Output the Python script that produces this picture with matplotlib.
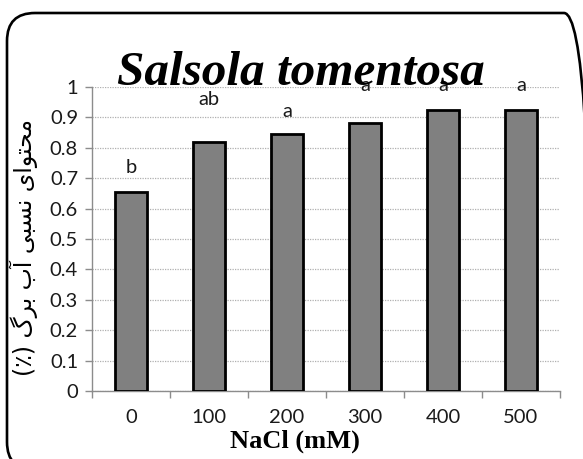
import matplotlib
matplotlib.use("Agg")
import matplotlib.pyplot as plt
from matplotlib.patches import FancyBboxPatch
from matplotlib.ticker import FormatStrFormatter, MultipleLocator

# NaCl treatments and relative water content
nacl = ["0", "100", "200", "300", "400", "500"]
rwc = [0.655, 0.82, 0.845, 0.88, 0.925, 0.925]
groups = ["b", "ab", "a", "a", "a", "a"]
group_y = [0.717, 0.941, 0.902, 0.988, 0.988, 0.988]

# Persian axis title, pre-shaped glyphs in visual (left-to-right) order
ylabel = ("(\u066a) "
          "\u06af\ufeae\ufe91 "
          "\ufe8f\ufe81 "
          "\ufef0\ufe92\ufeb4\ufee7 "
          "\ufeef\ufe8d\ufeee\ufe98\ufea4\ufee3")

W, H = 583, 459
fig = plt.figure(figsize=(W / 100, H / 100), dpi=100)
ax = fig.add_axes([92 / W, 1 - 391 / H, (560 - 92) / W, (391 - 87) / H])

x = list(range(len(nacl)))
ax.bar(x, rwc, width=0.4, color="#808080", edgecolor="black", linewidth=2, zorder=3)

tick_font = "Lato"
for xi, g, gy in zip(x, groups, group_y):
    ax.text(xi, gy, g, ha="center", va="baseline", fontsize=14.5,
            family=tick_font, color="#1a1a1a")

ax.set_xlim(-0.5, len(nacl) - 0.5)
ax.set_ylim(0, 1)
ax.yaxis.set_major_locator(MultipleLocator(0.1))
ax.yaxis.set_major_formatter(FormatStrFormatter("%g"))
ax.grid(axis="y", linestyle=(0, (1, 1)), color="#b0b0b0", linewidth=0.9, zorder=0)

ax.set_xticks(x)
ax.set_xticklabels(nacl)
ax.set_xticks([i - 0.5 for i in range(len(nacl) + 1)], minor=True)
ax.tick_params(axis="x", which="major", length=0, pad=13)
ax.tick_params(axis="x", which="minor", length=5, color="#8c8c8c", width=1)
ax.tick_params(axis="y", length=5, color="#8c8c8c", width=1, pad=5)
for lab in ax.get_xticklabels() + ax.get_yticklabels():
    lab.set_family(tick_font)
    lab.set_fontsize(14.5)
    lab.set_color("#1a1a1a")

for side in ["top", "right"]:
    ax.spines[side].set_visible(False)
for side in ["left", "bottom"]:
    ax.spines[side].set_color("#8c8c8c")
    ax.spines[side].set_linewidth(1)

fig.text(301 / W, 1 - 85 / H, "Salsola tomentosa", ha="center", va="baseline",
         family="Liberation Serif", fontweight="bold", fontstyle="italic", fontsize=35.5)
fig.text(295 / W, 1 - 441 / H, "NaCl (mM)", ha="center", va="center",
         family="Liberation Serif", fontweight="bold", fontsize=19)
fig.text(24 / W, 1 - 248 / H, ylabel, ha="center", va="center", rotation=90,
         family="DejaVu Sans", fontsize=17)

# rounded chart frame, running off the right and bottom edges
x0, x1, y0, y1 = 7, 592, 13, 470
r = 28
frame = FancyBboxPatch((x0 / W, 1 - y1 / H), (x1 - x0) / W, (y1 - y0) / H,
                       boxstyle=f"round,pad=0,rounding_size={r / W}",
                       mutation_aspect=W / H, transform=fig.transFigure,
                       facecolor="none", edgecolor="black", linewidth=1.9)
fig.add_artist(frame)

fig.savefig("out.png", dpi=100)
